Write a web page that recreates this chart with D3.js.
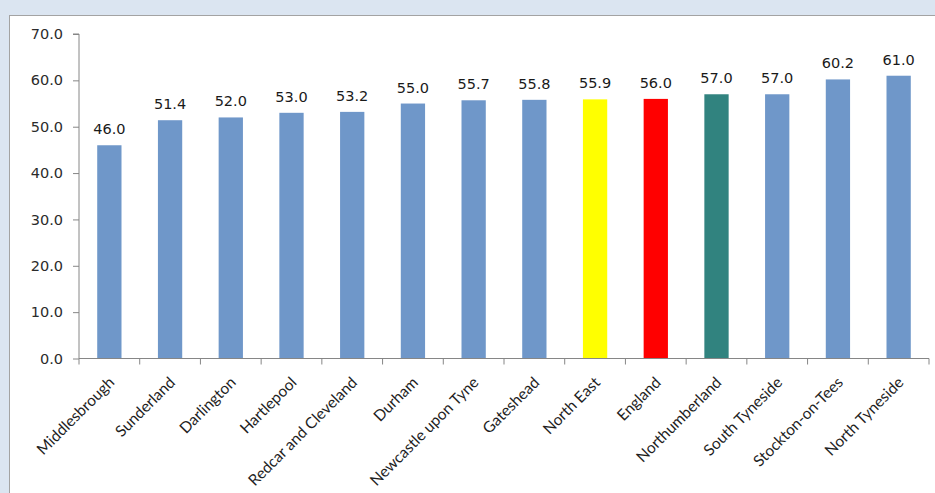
<!DOCTYPE html>
<html>
<head>
<meta charset="utf-8">
<script src="https://cdn.jsdelivr.net/npm/d3@7/dist/d3.min.js"></script>
<style>
  html, body { margin: 0; padding: 0; background: #dbe5f1; }
  svg { display: block; }
</style>
</head>
<body>
<svg id="chart" width="935" height="493"></svg>
<script>
const categories = ["Middlesbrough", "Sunderland", "Darlington", "Hartlepool", "Redcar and Cleveland",
  "Durham", "Newcastle upon Tyne", "Gateshead", "North East", "England",
  "Northumberland", "South Tyneside", "Stockton-on-Tees", "North Tyneside"];
const values = [46.0, 51.4, 52.0, 53.0, 53.2, 55.0, 55.7, 55.8, 55.9, 56.0, 57.0, 57.0, 60.2, 61.0];
const yTicks = [0, 10, 20, 30, 40, 50, 60, 70];

const barColor = d => d === "North East" ? "#ffff00"
  : d === "England" ? "#ff0000"
  : d === "Northumberland" ? "#31837f"
  : "#6f97c9";

const numFont = "DejaVu Sans, Verdana, sans-serif";
const labelFont = "Lato, Carlito, Calibri, sans-serif";

const svg = d3.select("#chart");

// white chart panel
svg.append("rect")
  .attr("x", 9.5).attr("y", 15.5)
  .attr("width", 940).attr("height", 490)
  .attr("fill", "#ffffff").attr("stroke", "#a3a3a3").attr("stroke-width", 1);

const plotLeft = 79, plotRight = 929, plotTop = 34, plotBottom = 358.5;

const x = d3.scaleBand().domain(categories).range([plotLeft, plotRight]).paddingInner(0.6).paddingOuter(0.3);
const y = d3.scaleLinear().domain([0, 70]).range([plotBottom, plotTop]);

// bars
svg.append("g").selectAll("rect").data(categories).join("rect")
  .attr("x", d => x(d))
  .attr("y", (d, i) => y(values[i]))
  .attr("width", x.bandwidth())
  .attr("height", (d, i) => plotBottom - y(values[i]))
  .attr("fill", barColor);

// value labels
svg.append("g").selectAll("text").data(categories).join("text")
  .attr("x", d => x(d) + x.bandwidth() / 2)
  .attr("y", (d, i) => y(values[i]) - 11)
  .attr("text-anchor", "middle")
  .attr("font-family", numFont)
  .attr("font-size", 14.5)
  .attr("fill", "#1a1a1a")
  .text((d, i) => values[i].toFixed(1));

// y axis
const yAxis = d3.axisLeft(y).tickValues(yTicks).tickFormat(d3.format(".1f")).tickSize(6).tickPadding(10);
const gy = svg.append("g").attr("transform", `translate(${plotLeft},0)`).call(yAxis);
gy.select(".domain").attr("stroke", "#868686").attr("d", `M-6,${plotTop}H0V${plotBottom}`);
gy.selectAll(".tick line").attr("stroke", "#868686");
gy.selectAll(".tick text")
  .attr("font-family", numFont)
  .attr("font-size", 14.5).attr("fill", "#2b2b2b");

// x axis: baseline with ticks at category boundaries
const boundaries = d3.range(categories.length + 1).map(i => plotLeft + i * (plotRight - plotLeft) / categories.length);
const gx = svg.append("g");
gx.append("line").attr("x1", plotLeft).attr("x2", plotRight).attr("y1", plotBottom).attr("y2", plotBottom)
  .attr("stroke", "#868686");
gx.selectAll("line.tk").data(boundaries).join("line").attr("class", "tk")
  .attr("x1", d => d).attr("x2", d => d)
  .attr("y1", plotBottom).attr("y2", plotBottom + 6)
  .attr("stroke", "#868686");

// rotated category labels
gx.selectAll("text").data(categories).join("text")
  .attr("transform", d => `translate(${x(d) + x.bandwidth() / 2 + 6},${plotBottom + 25}) rotate(-45)`)
  .attr("text-anchor", "end")
  .attr("font-family", labelFont)
  .attr("font-size", 15.5)
  .attr("fill", "#1f1f1f")
  .text(d => d);
</script>
</body>
</html>
